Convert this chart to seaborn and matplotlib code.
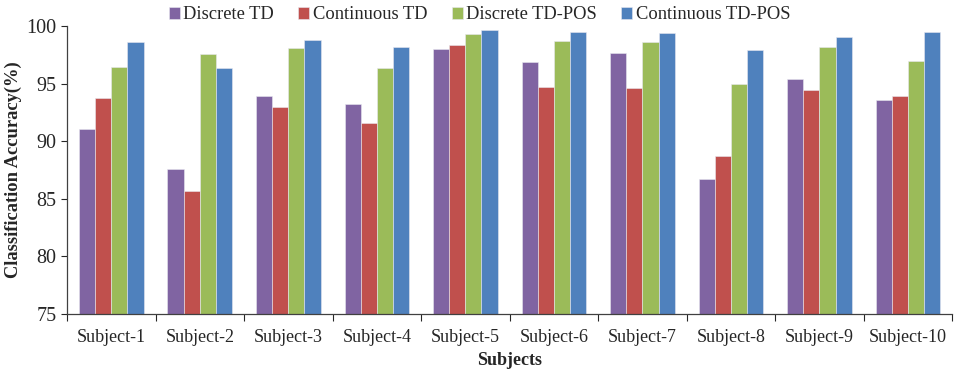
import pandas as pd
import numpy as np
import matplotlib.pyplot as plt
import seaborn as sns

sns.set_theme(style="white")
plt.rcParams['font.family'] = ['Liberation Serif', 'DejaVu Serif']

# Dados
subjects = [f"Subject-{i}" for i in range(1, 11)]
methods = ['Discrete TD', 'Continuous TD', 'Discrete TD-POS', 'Continuous TD-POS']
discrete_td = [91.1, 87.6, 93.9, 93.2, 98.0, 96.9, 97.7, 86.7, 95.4, 93.6]
continuous_td = [93.8, 85.7, 93.0, 91.6, 98.35, 94.7, 94.6, 88.7, 94.5, 93.9]
discrete_td_pos = [96.5, 97.6, 98.1, 96.4, 99.3, 98.7, 98.6, 95.0, 98.2, 97.0]
continuous_td_pos = [98.6, 96.4, 98.8, 98.2, 99.7, 99.5, 99.4, 97.9, 99.1, 99.5]
colors = ['#8064A2', '#C0504D', '#9BBB59', '#4F81BD']

df = pd.DataFrame({
    'Subject': subjects * 4,
    'Method': np.repeat(methods, len(subjects)),
    'Accuracy': discrete_td + continuous_td + discrete_td_pos + continuous_td_pos,
})

fig, ax = plt.subplots(figsize=(9.57, 3.75), dpi=100)
sns.barplot(data=df, x='Subject', y='Accuracy', hue='Method', order=subjects,
            hue_order=methods, palette=colors, saturation=1, width=0.73, ax=ax,
            edgecolor='#e8e8f0', linewidth=0.4, errorbar=None)

ax.set_ylim(75, 100)
ax.set_yticks([75, 80, 85, 90, 95, 100])
ax.set_xlim(-0.5, len(subjects) - 0.5)
ax.set_xlabel('Subjects', fontsize=13, fontweight='bold', labelpad=4)
ax.set_ylabel('Classification Accuracy(%)', fontsize=13.3, fontweight='bold', labelpad=3)

# marcas entre as categorias
ax.set_xticks(np.arange(-0.5, len(subjects)), minor=True)
ax.tick_params(axis='x', which='major', length=0, labelsize=13, pad=11)
ax.tick_params(axis='x', which='minor', length=5, width=0.8, direction='out', bottom=True)
ax.tick_params(axis='y', length=4, width=0.8, direction='out', left=True, labelsize=14.5)

sns.despine(ax=ax)
for s in ['left', 'bottom']:
    ax.spines[s].set_color('#404040')
    ax.spines[s].set_linewidth(0.9)

ax.legend(loc='lower center', bbox_to_anchor=(0.466, 0.985), ncol=4, frameon=False,
          fontsize=13.3, handlelength=0.6, handleheight=0.6, handletextpad=0.2,
          columnspacing=1.3, borderaxespad=0)

plt.subplots_adjust(left=0.07, right=0.995, top=0.93, bottom=0.163)
plt.savefig('out.png')
plt.close()
